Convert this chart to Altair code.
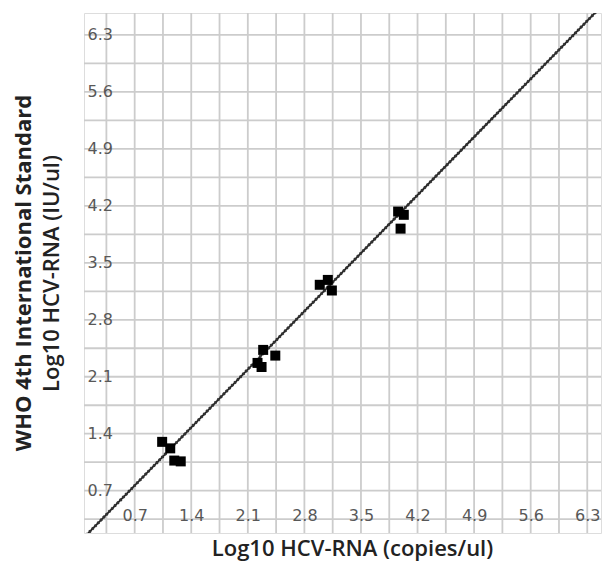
import altair as alt
import pandas as pd

# measured points (Log10 copies/ul vs Log10 IU/ul)
x_vals = [1.04, 1.14, 1.19, 1.27, 2.29, 2.44, 2.22, 2.27, 2.99, 3.09, 3.14, 3.96, 4.03, 3.99]
y_vals = [1.30, 1.22, 1.07, 1.06, 2.43, 2.36, 2.27, 2.22, 3.23, 3.29, 3.16, 4.13, 4.09, 3.92]

# fitted line end points
line_x = [0.0, 6.6]
line_y = [0.05, 6.78]

# labelled ticks every 0.7, extra grid lines half way between
label_ticks = [0.7, 1.4, 2.1, 2.8, 3.5, 4.2, 4.9, 5.6, 6.3]
minor_ticks = [0.35, 1.05, 1.75, 2.45, 3.15, 3.85, 4.55, 5.25, 5.95]

x_domain = [0.073, 6.47]
y_domain = [0.18, 6.57]

pts = pd.DataFrame({"x": x_vals, "y": y_vals})
ln = pd.DataFrame({"x": line_x, "y": line_y})
major = pd.DataFrame({"g": label_ticks})
minor = pd.DataFrame({"g": minor_ticks})

xscale = alt.Scale(domain=x_domain, nice=False, zero=False)
yscale = alt.Scale(domain=y_domain, nice=False, zero=False)

x_axis = alt.Axis(values=label_ticks, format=".1f", grid=False, ticks=False, domain=False,
                  labelPadding=-26, labelBaseline="top", labelFont="DejaVu Sans",
                  labelFontSize=16, labelColor="#585858", labelFlush=False,
                  labelOverlap=False, zindex=2,
                  title="Log10 HCV-RNA (copies/ul)", titleFont="Open Sans",
                  titleFontSize=22, titleFontWeight=600, titleColor="#222222",
                  titlePadding=5, titleX=268)
y_axis = alt.Axis(values=label_ticks, format=".1f", grid=False, ticks=False, domain=False,
                  labelPadding=-3, labelAlign="left", labelFont="DejaVu Sans",
                  labelFontSize=16, labelColor="#585858", labelFlush=False,
                  labelOverlap=False, zindex=2,
                  title="Log10 HCV-RNA (IU/ul)", titleFont="Open Sans",
                  titleFontSize=22, titleFontWeight=600, titleColor="#222222",
                  titlePadding=21)

grid_style = dict(color="#cccccc", strokeWidth=1.8)

vmajor = alt.Chart(major).mark_rule(**grid_style).encode(x=alt.X("g:Q", scale=xscale, axis=x_axis))
hmajor = alt.Chart(major).mark_rule(**grid_style).encode(y=alt.Y("g:Q", scale=yscale, axis=y_axis))
vminor = alt.Chart(minor).mark_rule(**grid_style).encode(x=alt.X("g:Q", scale=xscale, axis=x_axis))
hminor = alt.Chart(minor).mark_rule(**grid_style).encode(y=alt.Y("g:Q", scale=yscale, axis=y_axis))

base_line = alt.Chart(ln).mark_line(color="#222222", strokeWidth=1.8, clip=True).encode(
    x=alt.X("x:Q", scale=xscale, axis=x_axis),
    y=alt.Y("y:Q", scale=yscale, axis=y_axis),
)
dot_line = alt.Chart(ln).mark_line(color="#333333", strokeWidth=3, strokeDash=[2, 2],
                                   clip=True).encode(
    x=alt.X("x:Q", scale=xscale, axis=x_axis),
    y=alt.Y("y:Q", scale=yscale, axis=y_axis),
)
points = alt.Chart(pts).mark_point(shape="square", filled=True, color="#000000",
                                   opacity=1, size=100).encode(
    x=alt.X("x:Q", scale=xscale, axis=x_axis),
    y=alt.Y("y:Q", scale=yscale, axis=y_axis),
)

chart = alt.layer(vmajor, hmajor, vminor, hminor, base_line, dot_line, points).properties(
    width=517, height=520,
    padding={"left": 4, "top": 4, "right": 0, "bottom": 4},
    title=alt.TitleParams(text="WHO 4th International Standard", orient="left",
                          font="Open Sans", fontSize=22, fontWeight="bold",
                          color="#222222", offset=4, anchor="middle"),
).configure_view(fill="#f6f6f6", strokeWidth=0).configure(background="#ffffff")

chart.save("out.html", embed_options={"renderer": "svg", "actions": False})
